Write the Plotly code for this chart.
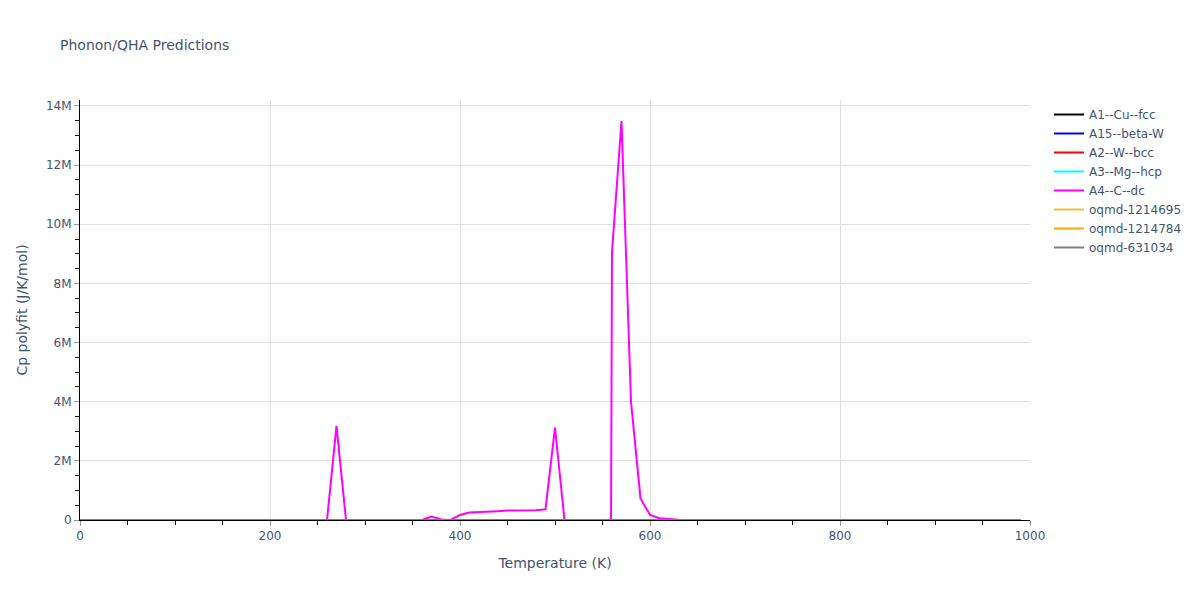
import plotly.graph_objects as go

temperature = [t * 10 for t in range(100)]  # 0 .. 990 K

series_names = ["A1--Cu--fcc", "A15--beta-W", "A2--W--bcc", "A3--Mg--hcp", "A4--C--dc",
                "oqmd-1214695", "oqmd-1214784", "oqmd-631034"]
series_colors = ["black", "blue", "red", "cyan", "magenta", "#f0c23b", "orange", "gray"]

flat_cp = [0.0, 0.0, 0.0, 0.0, 0.0, 0.0, 0.0, 0.0, 0.0, 0.0,
           0.0, 0.0, 0.0, 0.0, 0.0, 0.0, 0.0, 0.0, 0.0, 0.0,
           0.0, 0.0, 0.0, 0.0, 0.0, 0.0, 0.0, 0.0, 0.0, 0.0,
           0.0, 0.0, 0.0, 0.0, 0.0, 0.0, 0.0, 0.0, 0.0, 0.0,
           0.0, 0.0, 0.0, 0.0, 0.0, 0.0, 0.0, 0.0, 0.0, 0.0,
           0.0, 0.0, 0.0, 0.0, 0.0, 0.0, 0.0, 0.0, 0.0, 0.0,
           0.0, 0.0, 0.0, 0.0, 0.0, 0.0, 0.0, 0.0, 0.0, 0.0,
           0.0, 0.0, 0.0, 0.0, 0.0, 0.0, 0.0, 0.0, 0.0, 0.0,
           0.0, 0.0, 0.0, 0.0, 0.0, 0.0, 0.0, 0.0, 0.0, 0.0,
           0.0, 0.0, 0.0, 0.0, 0.0, 0.0, 0.0, 0.0, 0.0, 0.0]

# A4--C--dc Cp polyfit in MJ/K/mol, T = 0..990 step 10
a4_cp_million = [
    0, 0, 0, 0, 0, 0, 0, 0, 0, 0,            # 0-90
    0, 0, 0, 0, 0, 0, 0, 0, 0, 0,            # 100-190
    0, 0, 0, 0, 0, 0, 0, 3.18, 0, 0,         # 200-290
    0, 0, 0, 0, 0, 0, 0, 0.12, 0.02, 0,      # 300-390
    0.17, 0.25, 0.26, 0.28, 0.30, 0.32, 0.32, 0.32, 0.33, 0.36,  # 400-490
    3.12, 0, 0, 0, 0, -80.0, 9.07, 13.49, 4.0, 0.73,              # 500-590
    0.17, 0.06, 0.03, 0.01, 0, 0, 0, 0, 0, 0,  # 600-690
    0, 0, 0, 0, 0, 0, 0, 0, 0, 0,            # 700-790
    0, 0, 0, 0, 0, 0, 0, 0, 0, 0,            # 800-890
    0, 0, 0, 0, 0, 0, 0, 0, 0, 0,            # 900-990
]
a4_cp = [v * 1e6 for v in a4_cp_million]

fig = go.Figure()
for name, color in zip(series_names, series_colors):
    y = a4_cp if name == "A4--C--dc" else flat_cp
    fig.add_trace(go.Scatter(x=temperature, y=y, mode="lines", name=name,
                             line=dict(color=color, width=2)))

fig.update_layout(
    width=1200, height=600,
    template="plotly",
    font=dict(family="Verdana, 'DejaVu Sans', sans-serif", size=12, color="#44546f"),
    title=dict(text="Phonon/QHA Predictions", x=0.05, font=dict(size=14)),
    margin=dict(l=80, r=170, t=100, b=80),
    plot_bgcolor="white",
    paper_bgcolor="white",
    legend=dict(bgcolor="rgba(0,0,0,0)"),
)
fig.update_xaxes(
    title_text="Temperature (K)", range=[0, 1000], dtick=200,
    showline=True, linecolor="black", linewidth=1,
    showgrid=True, gridcolor="#e0e0e0", zeroline=False,
    ticks="outside", tickcolor="#9a9a9a", ticklen=5,
    minor=dict(dtick=50, ticks="outside", tickcolor="black", ticklen=4, showgrid=False),
)
fig.update_yaxes(
    title_text="Cp polyfit (J/K/mol)", range=[0, 14.2e6], dtick=2e6,
    showline=True, linecolor="black", linewidth=1,
    showgrid=True, gridcolor="#e0e0e0", zeroline=False,
    ticks="outside", tickcolor="#9a9a9a", ticklen=5,
    minor=dict(dtick=0.5e6, ticks="outside", tickcolor="black", ticklen=4, showgrid=False),
)

fig.write_html("out.html", config={"displayModeBar": False},
               post_script="document.body.style.margin='0';")
